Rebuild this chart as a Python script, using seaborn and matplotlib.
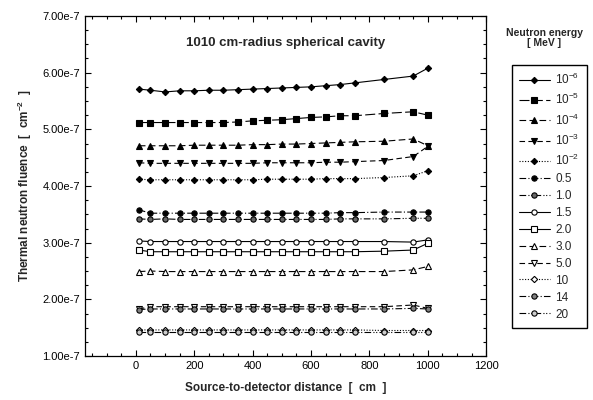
import numpy as np
import pandas as pd
import seaborn as sns
import matplotlib
matplotlib.use("Agg")
import matplotlib.pyplot as plt
from matplotlib.ticker import MultipleLocator, FuncFormatter

# source-to-detector distance [cm]
distance = [10, 50, 100, 150, 200, 250, 300, 350, 400, 450, 500, 550,
            600, 650, 700, 750, 850, 950, 1000]

energies = ["$10^{-6}$", "$10^{-5}$", "$10^{-4}$", "$10^{-3}$", "$10^{-2}$",
            "0.5", "1.0", "1.5", "2.0", "3.0", "5.0", "10", "14", "20"]

# thermal neutron fluence, in units of 1e-7 cm^-2
f_1e6 = [5.71, 5.69, 5.66, 5.68, 5.68, 5.69, 5.69, 5.70, 5.71, 5.72, 5.73, 5.74,
         5.75, 5.77, 5.79, 5.82, 5.88, 5.94, 6.08]
f_1e5 = [5.12, 5.12, 5.12, 5.12, 5.12, 5.12, 5.12, 5.13, 5.15, 5.16, 5.17, 5.19,
         5.21, 5.22, 5.24, 5.24, 5.28, 5.31, 5.25]
f_1e4 = [4.71, 4.71, 4.71, 4.71, 4.72, 4.72, 4.72, 4.72, 4.73, 4.73, 4.74, 4.74,
         4.75, 4.76, 4.77, 4.78, 4.79, 4.83, 4.71]
f_1e3 = [4.41, 4.40, 4.40, 4.40, 4.40, 4.40, 4.40, 4.40, 4.40, 4.41, 4.41, 4.41,
         4.41, 4.42, 4.42, 4.43, 4.45, 4.52, 4.70]
f_1e2 = [4.12, 4.11, 4.11, 4.11, 4.11, 4.11, 4.11, 4.11, 4.11, 4.12, 4.12, 4.12,
         4.12, 4.13, 4.13, 4.13, 4.15, 4.18, 4.27]
f_05 = [3.58, 3.52, 3.52, 3.52, 3.52, 3.52, 3.52, 3.52, 3.52, 3.52, 3.52, 3.52,
        3.52, 3.52, 3.53, 3.53, 3.54, 3.54, 3.54]
f_10 = [3.42, 3.41, 3.42, 3.41, 3.41, 3.41, 3.41, 3.41, 3.41, 3.41, 3.41, 3.41,
        3.41, 3.41, 3.42, 3.42, 3.42, 3.43, 3.43]
f_15 = [3.03, 3.02, 3.02, 3.02, 3.02, 3.02, 3.02, 3.02, 3.02, 3.02, 3.02, 3.02,
        3.02, 3.02, 3.02, 3.02, 3.02, 3.01, 3.05]
f_20 = [2.87, 2.84, 2.84, 2.84, 2.84, 2.84, 2.84, 2.84, 2.84, 2.84, 2.84, 2.84,
        2.84, 2.84, 2.84, 2.84, 2.85, 2.87, 2.99]
f_30 = [2.49, 2.50, 2.49, 2.49, 2.49, 2.49, 2.49, 2.49, 2.49, 2.49, 2.49, 2.49,
        2.49, 2.49, 2.49, 2.49, 2.49, 2.52, 2.58]
f_50 = [1.83, 1.87, 1.87, 1.87, 1.87, 1.87, 1.87, 1.87, 1.87, 1.87, 1.87, 1.87,
        1.87, 1.87, 1.87, 1.87, 1.87, 1.90, 1.84]
f_100 = [1.46, 1.46, 1.46, 1.46, 1.46, 1.46, 1.46, 1.46, 1.46, 1.46, 1.46, 1.46,
         1.46, 1.46, 1.46, 1.46, 1.45, 1.45, 1.45]
f_140 = [1.82, 1.83, 1.83, 1.83, 1.83, 1.83, 1.83, 1.83, 1.83, 1.83, 1.83, 1.83,
         1.83, 1.83, 1.83, 1.83, 1.83, 1.84, 1.83]
f_200 = [1.43, 1.43, 1.43, 1.43, 1.43, 1.43, 1.43, 1.43, 1.43, 1.43, 1.43, 1.43,
         1.43, 1.43, 1.43, 1.43, 1.43, 1.43, 1.43]

fluence = [f_1e6, f_1e5, f_1e4, f_1e3, f_1e2, f_05, f_10, f_15, f_20, f_30,
           f_50, f_100, f_140, f_200]

# marker, face colour, linestyle for each energy
styles = [
    ("D", "k", "-"),
    ("s", "k", (0, (9, 3))),
    ("^", "k", (0, (6, 3))),
    ("v", "k", (0, (5, 3))),
    ("D", "k", (0, (1, 1.5))),
    ("o", "k", (0, (6, 2, 1, 2))),
    ("o", "0.4", (0, (6, 2, 1, 1.5, 1, 2))),
    ("o", "w", "-"),
    ("s", "w", "-"),
    ("^", "w", (0, (6, 3))),
    ("v", "w", (0, (5, 3))),
    ("D", "w", (0, (1, 1.5))),
    ("o", "0.5", (0, (6, 2, 1, 2))),
    ("o", "0.8", (0, (6, 2, 1, 1.5, 1, 2))),
]

rows = []
for e, vals in zip(energies, fluence):
    for d, v in zip(distance, vals):
        rows.append({"distance": d, "fluence": v * 1e-7, "energy": e})
df = pd.DataFrame(rows)

sns.set_style("ticks")
plt.rcParams["font.family"] = ["Liberation Sans", "DejaVu Sans"]
plt.rcParams["mathtext.default"] = "regular"

fig = plt.figure(figsize=(5.93, 4.0), dpi=100)
ax = fig.add_axes([0.143, 0.11, 0.677, 0.85])

for e, (m, fc, ls) in zip(energies, styles):
    sub = df[df["energy"] == e]
    sns.lineplot(data=sub, x="distance", y="fluence", ax=ax, color="k",
                 marker=m, markersize=3.8 if m != "D" else 3.2,
                 markerfacecolor=fc, markeredgecolor="k", markeredgewidth=0.8,
                 linestyle=ls, linewidth=0.8, label=e)

ax.set_xlim(-175, 1200)
ax.set_ylim(1e-7, 7e-7)
ax.xaxis.set_major_locator(MultipleLocator(200))
ax.xaxis.set_minor_locator(MultipleLocator(50))
ax.yaxis.set_major_locator(MultipleLocator(1e-7))
ax.yaxis.set_minor_locator(MultipleLocator(0.25e-7))
ax.yaxis.set_major_formatter(FuncFormatter(
    lambda v, p: f"{v:.2e}".replace("e-0", "e-")))
ax.tick_params(which="both", direction="in", top=True, right=True,
               labelsize=8, colors="k")
ax.tick_params(which="major", length=4, width=0.8)
ax.tick_params(which="minor", length=2.5, width=0.8)
for s in ax.spines.values():
    s.set_color("k")
    s.set_linewidth(0.9)

ax.set_xlabel("Source-to-detector distance  [  cm  ]", fontsize=8.5,
              fontweight="bold", labelpad=8)
ax.set_ylabel("Thermal neutron fluence  [  cm$^{-2}$  ]", fontsize=8.5,
              fontweight="bold", labelpad=6)
ax.text(0.5, 0.92, "1010 cm-radius spherical cavity", transform=ax.transAxes,
        ha="center", va="center", fontsize=9.5, fontweight="bold")

handles, labels = ax.get_legend_handles_labels()
ax.get_legend().remove()
fig.legend(handles, labels, loc="upper left", bbox_to_anchor=(0.863, 0.8375),
           borderaxespad=0, fontsize=8.5, frameon=True, fancybox=False,
           edgecolor="k", framealpha=1, handlelength=2.6, labelspacing=0.42,
           handletextpad=0.5, borderpad=0.6)
fig.text(0.918, 0.905, "Neutron energy\n[ MeV ]", ha="center", va="center",
         fontsize=7.5, fontweight="bold", linespacing=1.0)

fig.savefig("out.png", dpi=100)
